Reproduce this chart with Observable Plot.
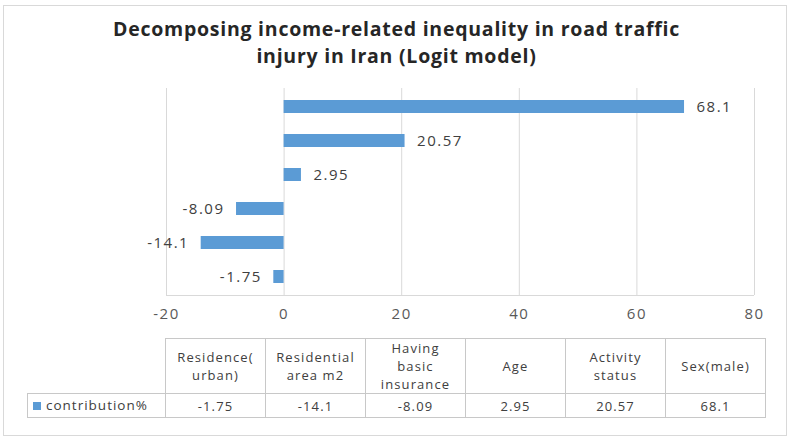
<!DOCTYPE html>
<html>
<head>
<meta charset="utf-8">
<script src="https://cdn.jsdelivr.net/npm/d3@7"></script>
<script src="https://cdn.jsdelivr.net/npm/@observablehq/plot@0.6"></script>
<style>
  html, body { margin: 0; padding: 0; background: #fff; width: 793px; height: 441px; overflow: hidden; }
  body { position: relative; font-family: "Open Sans", sans-serif; }
  #frame { position: absolute; left: 3px; top: 5px; width: 784px; height: 431px; border: 1px solid #d9d9d9; box-sizing: border-box; }
  #title { position: absolute; left: 0; top: 15px; width: 793px; text-align: center; font-family: "Open Sans", sans-serif; font-weight: bold; font-size: 19.5px; line-height: 27px; color: #262626; letter-spacing: 0.75px; }
  #chart { position: absolute; left: 0; top: 80px; }
  #tbl { position: absolute; left: 165px; top: 338px; border-collapse: collapse; font-family: "Open Sans", sans-serif; font-size: 13px; color: #404040; letter-spacing: 1.1px; }
  #tbl td { border: 1px solid #c8c8c8; text-align: center; padding: 0; width: 99px; line-height: 18px; }
  #tbl tr.h td { height: 54px; }
  #tbl tr.d td { height: 23px; }
  #legend { position: absolute; left: 27px; top: 393px; width: 138px; height: 25px; border: 1px solid #c8c8c8; border-right: none; box-sizing: border-box; font-family: "Open Sans", sans-serif; font-size: 13.5px; color: #404040; line-height: 23px; padding-left: 5px; letter-spacing: 1px; }
  #legend span { display: inline-block; width: 8px; height: 8px; background: #5b9bd5; margin-right: 5px; vertical-align: 0px; }
</style>
</head>
<body>
<div id="frame"></div>
<div id="title">Decomposing income-related inequality in road traffic<br>injury in Iran (Logit model)</div>
<div id="chart"></div>
<table id="tbl"></table>
<div id="legend"><span></span>contribution%</div>
<script>
// Data (table order, left to right)
const categories = ["Residence(urban)", "Residential area m2", "Having basic insurance", "Age", "Activity status", "Sex(male)"];
const headerLabels = [["Residence(", "urban)"], ["Residential", "area m2"], ["Having", "basic", "insurance"], ["Age"], ["Activity", "status"], ["Sex(male)"]];
const contribution = [-1.75, -14.1, -8.09, 2.95, 20.57, 68.1];
const valueLabels = ["-1.75", "-14.1", "-8.09", "2.95", "20.57", "68.1"];
const seriesName = "contribution%";
const xTicks = [-20, 0, 20, 40, 60, 80];

const data = categories.map((c, i) => ({category: c, value: contribution[i], label: valueLabels[i]}));

const labelStyle = {fill: "#404040", fontSize: 15, fontFamily: "Open Sans, sans-serif"};

const chart = Plot.plot({
  width: 793,
  height: 245,
  marginLeft: 166,
  marginRight: 39,
  marginTop: 8,
  marginBottom: 30,
  style: {fontFamily: "Open Sans, sans-serif", fontSize: "15px", color: "#595959", background: "transparent", letterSpacing: "1.5px"},
  x: {domain: [-20, 80], ticks: xTicks, tickFormat: d => String(d), label: null, tickSize: 0, tickPadding: 13},
  y: {domain: categories.slice().reverse(), axis: null, paddingInner: 0.62, paddingOuter: 0.31},
  marks: [
    Plot.ruleX(xTicks, {stroke: "#d9d9d9", strokeWidth: 1}),
    Plot.barX(data, {x1: 0, x2: "value", y: "category", fill: "#5b9bd5"}),
    Plot.text(data.filter(d => d.value >= 0), {x: "value", y: "category", text: "label", textAnchor: "start", dx: 12, ...labelStyle}),
    Plot.text(data.filter(d => d.value < 0), {x: "value", y: "category", text: "label", textAnchor: "end", dx: -12, ...labelStyle})
  ]
});
document.getElementById("chart").appendChild(chart);

// Baseline along bottom of plot area
const svg = d3.select(chart);
svg.append("line")
  .attr("x1", 166).attr("x2", 754)
  .attr("y1", 245 - 30 + 0.5).attr("y2", 245 - 30 + 0.5)
  .attr("stroke", "#d9d9d9");

// Data table
const tbl = d3.select("#tbl");
const hr = tbl.append("tr").attr("class", "h");
headerLabels.forEach(lines => hr.append("td").html(lines.join("<br>")));
const dr = tbl.append("tr").attr("class", "d");
valueLabels.forEach(v => dr.append("td").text(v));
</script>
</body>
</html>
